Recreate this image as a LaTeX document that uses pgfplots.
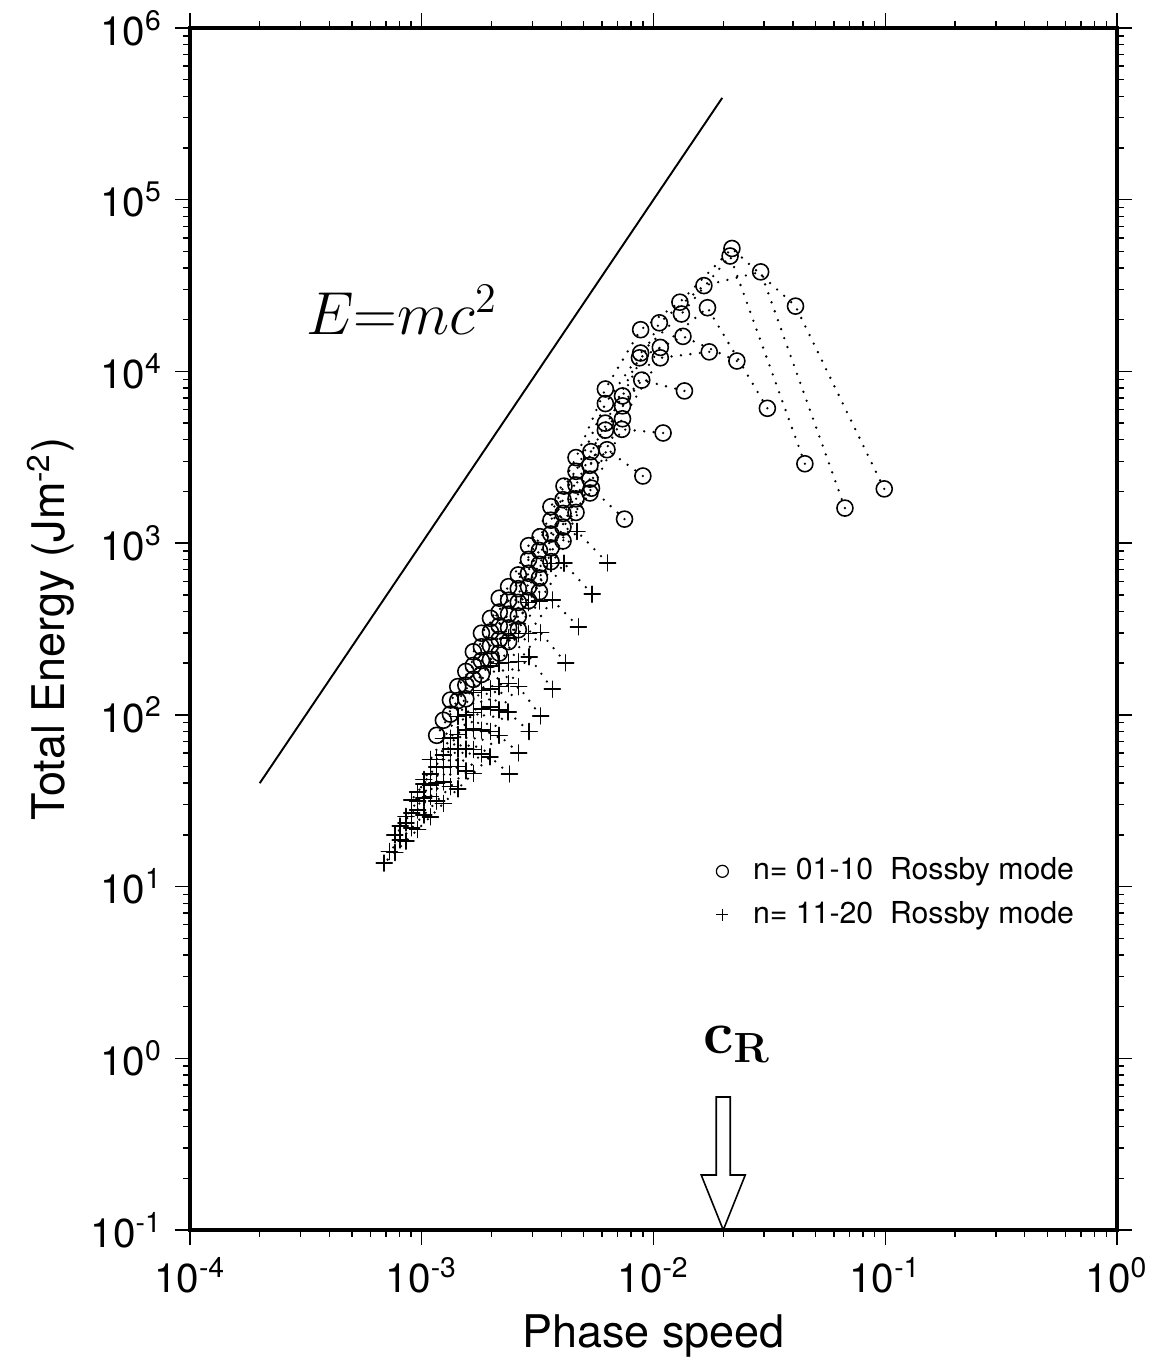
\documentclass[border=0pt]{standalone}
\usepackage[no-math]{fontspec}
\setmainfont{TeX Gyre Heros}
\usepackage{pgfplots}
\pgfplotsset{compat=1.18}
\usetikzlibrary{calc}

% one dotted line per wave series, marks drawn solid
\pgfplotsset{
  rline/.style={black, line width=0.26mm, dash pattern=on 0pt off 0.95mm,
    line cap=round, mark options={solid, line width=0.45pt}, forget plot},
  circ/.style={rline, mark=o, mark size=0.8mm},
  crs/.style={rline, mark=+, mark size=0.8mm},
}

\begin{document}
\begin{tikzpicture}
\begin{axis}[
  xmode=log, ymode=log,
  scale only axis, width=92.7mm, height=120.2mm,
  xmin=1e-4, xmax=1, ymin=1e-1, ymax=1e6,
  xtick={1e-4,1e-3,1e-2,1e-1,1},
  xticklabels={10\textsuperscript{-4},10\textsuperscript{-3},10\textsuperscript{-2},10\textsuperscript{-1},10\textsuperscript{0}},
  ytick={1e-1,1,10,100,1e3,1e4,1e5,1e6},
  yticklabels={10\textsuperscript{-1},10\textsuperscript{0},10\textsuperscript{1},10\textsuperscript{2},10\textsuperscript{3},10\textsuperscript{4},10\textsuperscript{5},10\textsuperscript{6}},
  tick align=outside,
  major tick length=1.5mm, minor tick length=0.7mm,
  tick style={black, line width=0.4pt},
  axis line style={line width=0.9pt},
  ticklabel style={font=\fontsize{11.5}{13}\selectfont},
  xlabel={Phase speed},
  ylabel={Total Energy (Jm\textsuperscript{-2})},
  label style={font=\fontsize{12.8}{15}\selectfont},
  xlabel style={at={(axis description cs:0.5,-0.060)}, anchor=north},
  ylabel style={at={(axis description cs:-0.189,0.5)}, anchor=north},
  legend style={at={(axis description cs:0.562,0.317)}, anchor=north west,
    draw=none, fill=none, inner sep=0pt, nodes={inner sep=0.8mm},
    font=\fontsize{8.6}{10}\selectfont, row sep=0pt},
  legend cell align=left,
  legend image code/.code={\draw[#1] plot coordinates {(0mm,0mm)};
    \path (-1mm,0mm) (2.2mm,0mm);},
]
\coordinate (SW) at (rel axis cs:0,0);
\coordinate (NE) at (rel axis cs:1,1);

% reference line E = m c^2
\addplot[black, line width=0.55pt, forget plot] coordinates {(2e-4,40) (0.0198,3.92e5)};

% n = 01-10
\addplot[circ] coordinates {(0.099,2070) (0.041,24000) (0.0218,52000) (0.0130,25300) (0.0088,17500) (0.0062,7900) (0.00463,3150) (0.00361,1630) (0.00289,967) (0.00237,558)};
\addplot[circ] coordinates {(0.067,1600) (0.029,38000) (0.0165,31600) (0.0106,19200) (0.00735,7200) (0.00537,3410) (0.00411,2150) (0.00324,1090) (0.00261,653) (0.00216,478)};
\addplot[circ] coordinates {(0.045,2900) (0.0214,47000) (0.0132,21600) (0.0088,12800) (0.0062,6500) (0.00463,2620) (0.00361,1360) (0.00289,804) (0.00237,465) (0.00198,365)};
\addplot[circ] coordinates {(0.031,6100) (0.0171,23500) (0.0107,13800) (0.00735,6300) (0.00532,2840) (0.00407,1790) (0.00322,906) (0.00261,543) (0.00216,397) (0.00181,299)};
\addplot[circ] coordinates {(0.0229,11500) (0.0134,16000) (0.0087,12000) (0.0062,5000) (0.00463,2180) (0.00361,1130) (0.00289,668) (0.00237,386) (0.00198,304) (0.00167,233)};
\addplot[circ] coordinates {(0.0174,13000) (0.0107,12000) (0.00735,5300) (0.00532,2360) (0.00407,1490) (0.00322,753) (0.00261,452) (0.00216,330) (0.00181,249) (0.00155,179)};
\addplot[circ] coordinates {(0.0136,7700) (0.0089,8900) (0.0062,4550) (0.00463,1810) (0.00361,938) (0.00289,556) (0.00237,321) (0.00198,253) (0.00167,194) (0.00143,146)};
\addplot[circ] coordinates {(0.011,4380) (0.0073,4600) (0.00532,1960) (0.00407,1240) (0.00322,627) (0.00261,376) (0.00216,275) (0.00181,207) (0.00155,149) (0.00133,122)};
\addplot[circ] coordinates {(0.009,2460) (0.0063,3500) (0.00463,1510) (0.00361,780) (0.00289,462) (0.00237,267) (0.00198,210) (0.00167,161) (0.00143,121) (0.00124,93)};
\addplot[circ] coordinates {(0.0075,1380) (0.0054,2090) (0.00407,1030) (0.00322,521) (0.00261,313) (0.00216,229) (0.00181,172) (0.00155,124) (0.00133,101) (0.00116,76)};

% n = 11-20
\addplot[crs] coordinates {(0.00634,767) (0.00468,1170) (0.00361,760) (0.00289,450) (0.00237,281) (0.00198,192) (0.00167,135) (0.00143,98) (0.00124,72.7) (0.00109,55)};
\addplot[crs] coordinates {(0.00544,504) (0.00411,764) (0.00322,460) (0.00261,297) (0.00216,199) (0.00181,139) (0.00155,99.7) (0.00133,73.1) (0.00116,54.9) (0.00102,42)};
\addplot[crs] coordinates {(0.00474,326) (0.00366,467) (0.00289,297) (0.00237,202) (0.00198,142) (0.00167,103) (0.00143,76.8) (0.00124,58.4) (0.00109,45.2) (0.00096,35.5)};
\addplot[crs] coordinates {(0.00418,201) (0.00326,301) (0.00261,204) (0.00216,146) (0.00181,108) (0.00155,81.7) (0.00133,63.1) (0.00116,49.6) (0.00102,39.6) (0.000905,32)};
\addplot[crs] coordinates {(0.00366,141) (0.00291,218) (0.00237,152) (0.00198,111) (0.00167,82.7) (0.00143,63.2) (0.00124,49.3) (0.00109,39.1) (0.00096,31.4) (0.000855,25.6)};
\addplot[crs] coordinates {(0.00326,98.6) (0.00262,146) (0.00216,107) (0.00181,81.4) (0.00155,63.2) (0.00133,49.9) (0.00116,40.1) (0.00102,32.7) (0.000905,26.9) (0.000808,22.5)};
\addplot[crs] coordinates {(0.00291,80) (0.00236,104) (0.00198,80.1) (0.00167,62.8) (0.00143,50.1) (0.00124,40.7) (0.00109,33.5) (0.00096,27.9) (0.000855,23.5) (0.000765,20)};
\addplot[crs] coordinates {(0.00262,60) (0.00216,76) (0.00181,59.2) (0.00155,47.2) (0.00133,38.2) (0.00116,31.4) (0.00102,26.1) (0.000905,22) (0.000808,18.7) (0.000725,16)};
\addplot[crs] coordinates {(0.00239,45.3) (0.00197,57) (0.00167,45.6) (0.00143,37.1) (0.00124,30.5) (0.00109,25.5) (0.00096,21.5) (0.000855,18.4) (0.000765,15.8) (0.000689,13.7)};

\addlegendimage{only marks, black, mark=o, mark size=0.6mm, mark options={line width=0.35pt}}
\addlegendentry{n= 01-10\ \ Rossby mode}
\addlegendimage{only marks, black, mark=+, mark size=0.6mm, mark options={line width=0.35pt}}
\addlegendentry{n= 11-20\ \ Rossby mode}

\node[anchor=base, font=\fontsize{17}{20}\selectfont] at (axis cs:8.2e-4,1.63e4) {$E{=}mc^2$};
\node[anchor=base, font=\fontsize{17}{20}\selectfont] at (axis cs:0.0229,1.07) {$\mathbf{c}_{\mathbf{R}}$};
\draw[line width=0.45pt, fill=white]
  ([xshift=-0.7mm]axis cs:0.02,0.595) -- ([xshift=-0.7mm]axis cs:0.02,0.209)
  -- ([xshift=-2.2mm]axis cs:0.02,0.209) -- (axis cs:0.02,0.1)
  -- ([xshift=2.2mm]axis cs:0.02,0.209) -- ([xshift=0.7mm]axis cs:0.02,0.209)
  -- ([xshift=0.7mm]axis cs:0.02,0.595) -- cycle;
\end{axis}
\pgfresetboundingbox
\path[use as bounding box] ($(SW)+(-19mm,-12.9mm)$) rectangle ($(NE)+(4.3mm,2.8mm)$);
\end{tikzpicture}
\end{document}
